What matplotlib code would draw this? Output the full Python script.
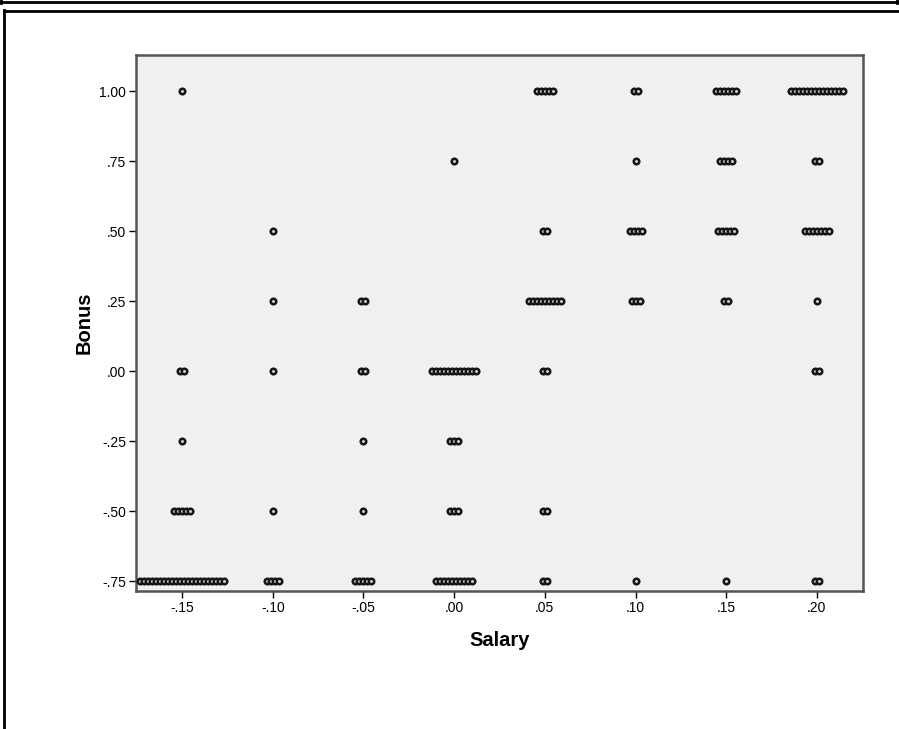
import matplotlib
matplotlib.use("Agg")
import matplotlib.pyplot as plt
from matplotlib.lines import Line2D
import numpy as np

# Salary / Bonus groups: each group is (salary, bonus, number of cases)
salary_levels = [-0.15, -0.10, -0.05, 0.00, 0.05, 0.10, 0.15, 0.20]
bonus_levels = [1.00, 0.75, 0.50, 0.25, 0.00, -0.25, -0.50, -0.75]

# case counts: one row per bonus level, one column per salary level
counts_bonus_100 = [1, 0, 0, 0, 5, 2, 6, 14]
counts_bonus_075 = [0, 0, 0, 1, 0, 1, 4, 2]
counts_bonus_050 = [0, 1, 0, 0, 2, 4, 5, 7]
counts_bonus_025 = [0, 1, 2, 0, 9, 3, 2, 1]
counts_bonus_000 = [2, 1, 2, 12, 2, 0, 0, 2]
counts_bonus_m025 = [1, 0, 1, 3, 0, 0, 0, 0]
counts_bonus_m050 = [5, 1, 1, 3, 2, 0, 0, 0]
counts_bonus_m075 = [22, 4, 5, 10, 2, 1, 1, 2]

count_rows = [counts_bonus_100, counts_bonus_075, counts_bonus_050,
              counts_bonus_025, counts_bonus_000, counts_bonus_m025,
              counts_bonus_m050, counts_bonus_m075]

x_ticks = [-0.15, -0.10, -0.05, 0.00, 0.05, 0.10, 0.15, 0.20]
x_tick_labels = ["-.15", "-.10", "-.05", ".00", ".05", ".10", ".15", ".20"]
y_ticks = [-0.75, -0.50, -0.25, 0.00, 0.25, 0.50, 0.75, 1.00]
y_tick_labels = ["-.75", "-.50", "-.25", ".00", ".25", ".50", ".75", "1.00"]

W, H = 899, 729
fig = plt.figure(figsize=(W / 100, H / 100), dpi=100)
fig.patch.set_facecolor("white")

# outer viewer frames
def hline(y, x0, x1, lw=2.0):
    fig.add_artist(Line2D([x0 / W, x1 / W], [1 - y / H, 1 - y / H],
                          transform=fig.transFigure, color="black", lw=lw))

def vline(x, y0, y1, lw=2.0):
    fig.add_artist(Line2D([x / W, x / W], [1 - y0 / H, 1 - y1 / H],
                          transform=fig.transFigure, color="black", lw=lw))

hline(2, 0, W)
vline(1, 0, 3)
vline(897, 0, 3)
hline(10.5, 3.5, W)
vline(4, 10, H)

left, right, top, bottom = 136, 863, 55, 591
ax = fig.add_axes([left / W, 1 - bottom / H, (right - left) / W, (bottom - top) / H])
ax.set_facecolor("#f0f0f0")

# duplicate cases are stacked side by side around their salary value
step = 0.0022
xs, ys = [], []
for b, row in zip(bonus_levels, count_rows):
    for s, n in zip(salary_levels, row):
        if n == 0:
            continue
        offsets = (np.arange(n) - (n - 1) / 2) * step
        xs.extend(s + offsets)
        ys.extend([b] * n)

ax.scatter(xs, ys, s=16, facecolors="#cccccc", edgecolors="#151515",
           linewidths=1.8, zorder=3)

ax.set_xlim(-0.1754, 0.2254)
ax.set_ylim(-0.7857, 1.1286)
ax.set_xticks(x_ticks)
ax.set_xticklabels(x_tick_labels)
ax.set_yticks(y_ticks)
ax.set_yticklabels(y_tick_labels)

fam = ["Liberation Sans", "DejaVu Sans"]
for lab in ax.get_xticklabels() + ax.get_yticklabels():
    lab.set_fontfamily(fam)
    lab.set_fontsize(10)

ax.tick_params(axis="both", direction="out", length=5, width=1.0,
               color="black", pad=2)
ax.tick_params(top=False, right=False)

for side in ["left", "right", "top", "bottom"]:
    ax.spines[side].set_color("#555555")
    ax.spines[side].set_linewidth(1.8)

ax.set_xlabel("Salary", fontsize=14.5, fontweight="bold", family=fam, labelpad=12)
ax.set_ylabel("Bonus", fontsize=14.5, fontweight="bold", family=fam, labelpad=4)

fig.savefig("out.png", dpi=100)
